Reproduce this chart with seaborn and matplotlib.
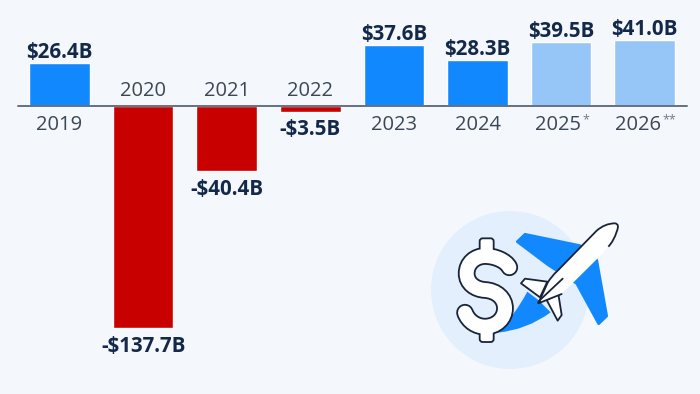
import matplotlib
matplotlib.use("Agg")
import matplotlib.pyplot as plt
import pandas as pd
import seaborn as sns
from matplotlib.patches import Circle, FancyBboxPatch, PathPatch, Polygon
from matplotlib.path import Path

YEARS = ["2019", "2020", "2021", "2022", "2023", "2024", "2025", "2026"]
NOTES = ["", "", "", "", "", "", "*", "**"]
PROFIT = [26.4, -137.7, -40.4, -3.5, 37.6, 28.3, 39.5, 41.0]
LABELS = ["$26.4B", "-$137.7B", "-$40.4B", "-$3.5B", "$37.6B", "$28.3B", "$39.5B", "$41.0B"]
COLORS = ["#1288ff", "#c80000", "#c80000", "#c80000", "#1288ff", "#1288ff", "#96c6f8", "#96c6f8"]

BG = "#f4f8fc"
DARK = "#14294a"
GREY = "#3b4756"
LINE = "#17243a"
BLUE = "#1288ff"


def planePts(pts: list) -> list:
    return [(420 + x / 3, 200 + y / 3) for x, y in pts]


def dollarPts(pts: list) -> list:
    return [(450 + x / 3, 230 + y / 3) for x, y in pts]


def drawDollar(ax) -> None:
    curve = Path(
        dollarPts([(178, 112), (168, 92), (135, 78), (105, 78), (75, 78), (50, 100),
                   (50, 130), (50, 160), (75, 178), (105, 180), (140, 182), (165, 205),
                   (165, 235), (165, 265), (140, 290), (105, 290), (80, 290), (55, 275),
                   (45, 248)]),
        [Path.MOVETO] + [Path.CURVE4] * 18,
    )
    ax.add_patch(PathPatch(curve, fc="none", ec=LINE, lw=12.7, capstyle="round"))
    for top in (25, 285):
        (x, y), = dollarPts([(89, top)])
        ax.add_patch(FancyBboxPatch(
            (x, y), 14, 17, boxstyle="round,pad=0,rounding_size=3",
            fc="white", ec=LINE, lw=1.3,
        ))
    ax.add_patch(PathPatch(curve, fc="none", ec="white", lw=10.1, capstyle="round"))


def drawPlane(ax) -> None:
    # wings
    ax.add_patch(Polygon(
        planePts([(292, 125), (315, 103), (480, 137), (530, 180), (560, 348),
                  (536, 371), (470, 250), (385, 195)]),
        fc=BLUE, ec=BLUE, lw=2, joinstyle="round",
    ))
    swoosh = Path(
        planePts([(232, 398), (285, 345), (322, 275), (355, 300), (392, 337), (320, 390), (232, 398)]),
        [Path.MOVETO, Path.CURVE3, Path.CURVE3, Path.LINETO, Path.LINETO, Path.CURVE3, Path.CURVE3],
    )
    ax.add_patch(PathPatch(swoosh, fc=BLUE, ec="none"))

    # tail fins then fuselage
    for fin in (
        [(303, 250), (315, 236), (382, 245), (360, 292)],
        [(380, 300), (415, 282), (425, 345), (413, 362)],
    ):
        ax.add_patch(Polygon(planePts(fin), fc="white", ec=LINE, lw=1.3, joinstyle="round"))

    upper = [(355, 310), (383, 248), (395, 228), (412, 213), (530, 92), (555, 70),
             (585, 70), (600, 72), (590, 95), (582, 122), (565, 140)]
    upperCodes = [Path.MOVETO, Path.LINETO, Path.CURVE3, Path.CURVE3, Path.LINETO,
                  Path.CURVE3, Path.CURVE3, Path.CURVE3, Path.CURVE3, Path.CURVE3, Path.CURVE3]
    lower = [(530, 178), (425, 282), (355, 310)]
    body = Path(planePts(upper + lower), upperCodes + [Path.LINETO] * 3)
    ax.add_patch(PathPatch(body, fc="white", ec="none"))
    ax.add_patch(PathPatch(Path(planePts(upper), upperCodes), fc="none", ec=LINE, lw=1.3))
    ax.plot(*zip(*planePts(lower[1:])), color=LINE, lw=1.3)
    ax.plot(*zip(*planePts([(360, 300), (428, 236)])), color=LINE, lw=1.3)
    ax.add_patch(Circle(planePts([(358, 306)])[0], 1.8, fc=LINE, lw=0))


def drawIcon(fig) -> None:
    ax = fig.add_axes([0, 0, 1, 1], facecolor="none")
    ax.set_xlim(0, 700)
    ax.set_ylim(394, 0)
    ax.axis("off")

    ax.add_patch(Circle((510, 290), 79, color="#e3effc", lw=0))
    drawPlane(ax)
    drawDollar(ax)


def main() -> None:
    sns.set_style("white")
    plt.rcParams["font.family"] = ["Open Sans", "DejaVu Sans"]

    df = pd.DataFrame({"year": YEARS, "profit": PROFIT})

    fig = plt.figure(figsize=(7, 3.94), dpi=100, facecolor=BG)
    ax = fig.add_axes([0, 0, 1, 1], facecolor=BG)
    sns.barplot(
        data=df, x="year", y="profit", hue="year", palette=COLORS,
        width=0.725, legend=False, saturation=1, ax=ax,
    )

    # full figure axes: 83.6 px per category, 1.612 px per billion, zero at y=106
    ax.set_xlim(-0.712, 7.661)
    ax.set_ylim(-178.66, 65.76)
    ax.axis("off")
    ax.axhline(0, xmin=18 / 700, xmax=687 / 700, color="#66717f", lw=1.4, zorder=5)

    for container, label, value in zip(ax.containers, LABELS, PROFIT):
        ax.bar_label(container, labels=[label], padding=0 if value > 0 else 5.5,
                     fontsize=14.8, fontweight="bold", color=DARK)

    # stars are separate small texts, the year and stars are centred together
    for i, (year, note, value) in enumerate(zip(YEARS, NOTES, PROFIT)):
        offset = -17.3 if value > 0 else 7.3
        shift = -2.5 * len(note)
        ax.annotate(year, (i, 0), xytext=(shift, offset), textcoords="offset points",
                    ha="center", va="baseline", fontsize=14.5, color=GREY)
        if note:
            ax.annotate(note, (i, 0), xytext=(shift + 17.5, offset + 4.5),
                        textcoords="offset points", ha="left", va="baseline",
                        fontsize=9, color="#6f7a88")

    drawIcon(fig)
    fig.savefig("out.png", dpi=100, facecolor=BG)


if __name__ == "__main__":
    main()
